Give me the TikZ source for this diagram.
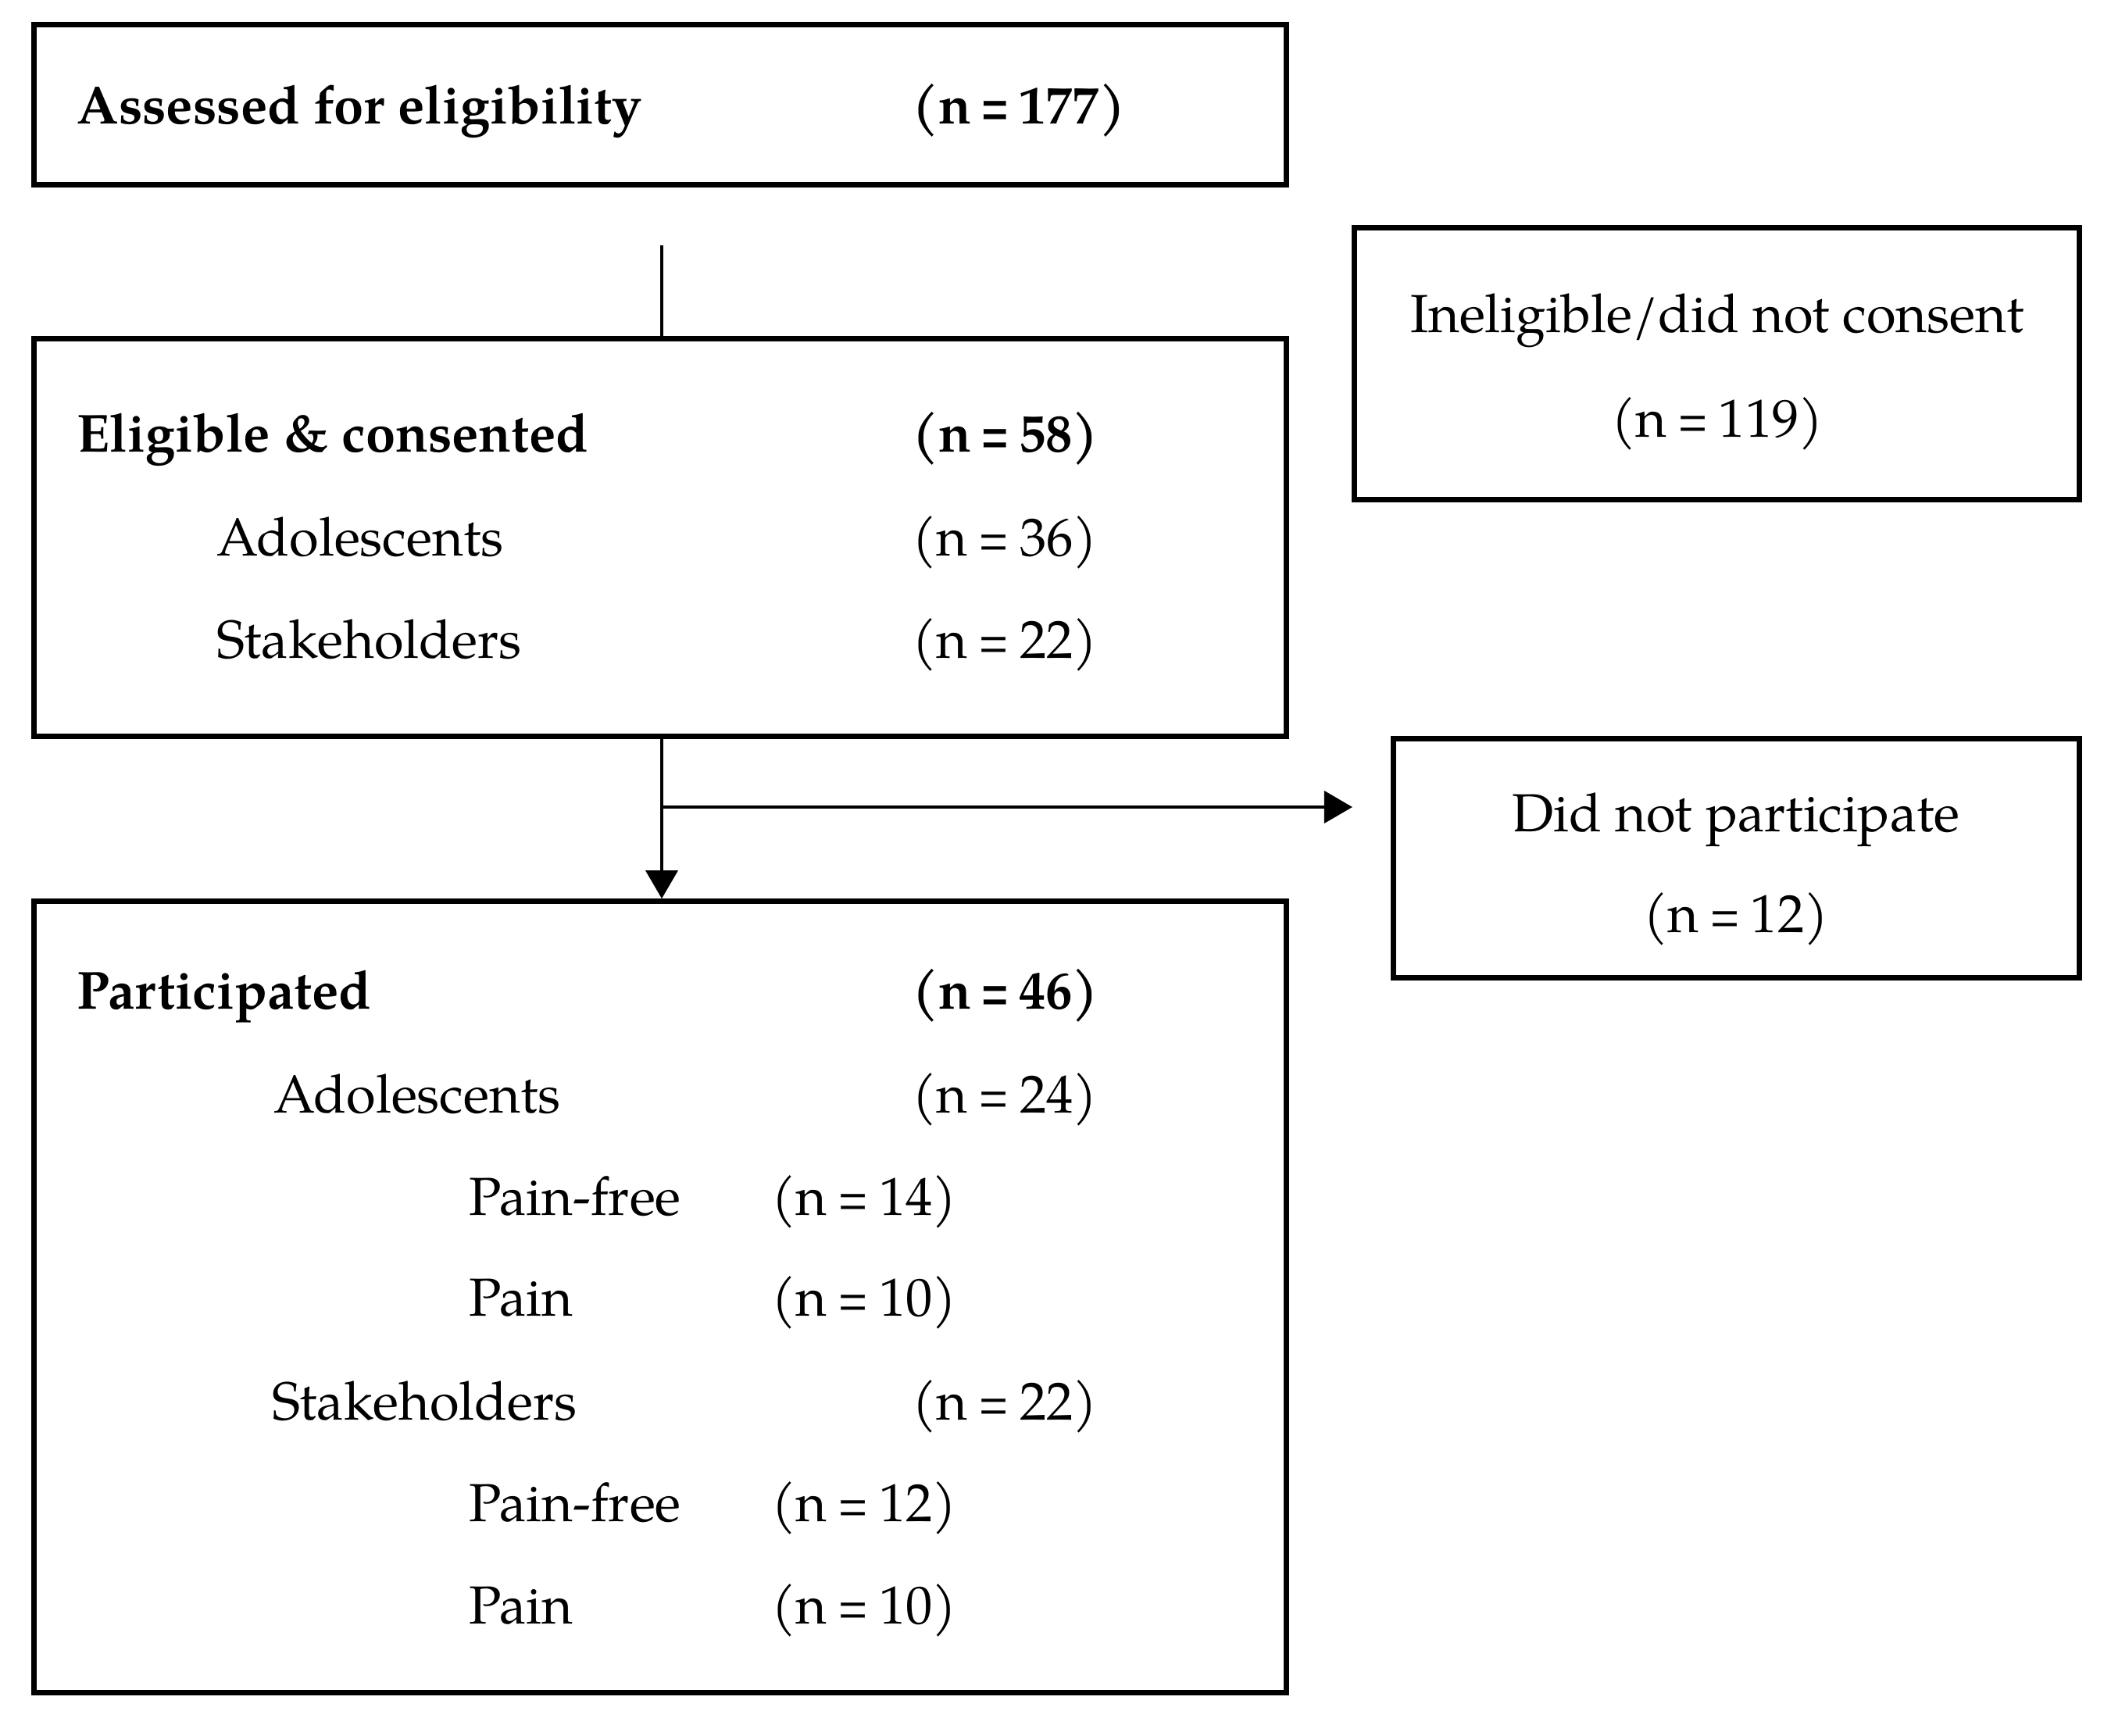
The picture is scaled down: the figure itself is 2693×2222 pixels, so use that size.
\documentclass[tikz,border=0pt]{standalone}
\usepackage{graphicx}
\usepackage{fontspec}
\setmainfont{texgyrepagella}[Extension=.otf, UprightFont=*-regular, BoldFont=*-bold]
\usetikzlibrary{arrows.meta}
\newcommand{\nval}[1]{(n\hspace{0.2em}\scalebox{0.75}[1]{=}\hspace{0.2em}#1)}
\newcommand{\bnval}[1]{(n\hspace{0.18em}\scalebox{0.7}[1]{=}\hspace{0.18em}#1)}
\begin{document}
\begin{tikzpicture}[x=0.01cm,y=-0.01cm,
  box/.style={draw=black, line width=2pt, inner sep=0pt, rectangle},
  txt/.style={inner sep=0pt, anchor=base west, font=\fontsize{19.5}{23}\selectfont},
  btxt/.style={txt, font=\fontsize{19.5}{23}\selectfont\bfseries},
  ctxt/.style={inner sep=0pt, anchor=base, font=\fontsize{19.5}{23}\selectfont},
  conn/.style={line width=1pt, draw=black},
  tip/.style={-{Triangle[length=0.36cm,width=0.41cm]}}
]
\fill[white] (0,0) rectangle (2693,2222);
\useasboundingbox (0,0) rectangle (2693,2222);

% boxes
\node[box, minimum width=16.02cm, minimum height=2.04cm] (assessed) at (845,134) {};
\node[box, minimum width=16.02cm, minimum height=5.08cm] (eligible) at (845,688) {};
\node[box, minimum width=16.02cm, minimum height=10.12cm] (particip) at (845,1660) {};
\node[box, minimum width=9.27cm, minimum height=3.47cm] (inelig) at (2197.5,465.5) {};
\node[box, minimum width=8.77cm, minimum height=3.05cm] (dnp) at (2222.5,1098.5) {};

% box 1 texts
\node[btxt] (t1a) at (98,159) {Assessed for eligibility};
\node[btxt] (t1b) at (1167,159) {\bnval{177}};

% box 2 texts
\node[btxt] (t2a) at (98,579) {Eligible \& consented};
\node[btxt] (t2b) at (1167,579) {\bnval{58}};
\node[txt] (t2c) at (277,712) {Adolescents};
\node[txt] (t2d) at (1167,712) {\nval{36}};
\node[txt] (t2e) at (277,843) {Stakeholders};
\node[txt] (t2f) at (1167,843) {\nval{22}};

% box 3 texts
\node[btxt] (t3a) at (98,1292) {Participated};
\node[btxt] (t3b) at (1167,1292) {\bnval{46}};
\node[txt] (t3c) at (350,1425) {Adolescents};
\node[txt] (t3d) at (1167,1425) {\nval{24}};
\node[txt] (t3e) at (600,1555) {Pain-free};
\node[txt] (t3f) at (987,1555) {\nval{14}};
\node[txt] (t3g) at (600,1684) {Pain};
\node[txt] (t3h) at (987,1684) {\nval{10}};
\node[txt] (t3i) at (348,1817) {Stakeholders};
\node[txt] (t3j) at (1167,1817) {\nval{22}};
\node[txt] (t3k) at (600,1947) {Pain-free};
\node[txt] (t3l) at (987,1947) {\nval{12}};
\node[txt] (t3m) at (600,2078) {Pain};
\node[txt] (t3n) at (987,2078) {\nval{10}};

% right boxes texts
\node[ctxt] (r1a) at (2198,426) {Ineligible/did not consent};
\node[ctxt] (r1b) at (2198,560) {\nval{119}};
\node[ctxt] (r2a) at (2222,1065) {Did not participate};
\node[ctxt] (r2b) at (2222,1194) {\nval{12}};

% connectors
\coordinate (gapstart) at (847,314);
\coordinate (branch) at (847,1033);
\coordinate (dnpend) at (1731,1033);
\draw[conn] (gapstart) -- (gapstart |- eligible.north);
\draw[conn, tip] (eligible.south -| branch) -- (particip.north -| branch);
\draw[conn, tip] (branch) -- (dnpend);
\end{tikzpicture}
\end{document}
